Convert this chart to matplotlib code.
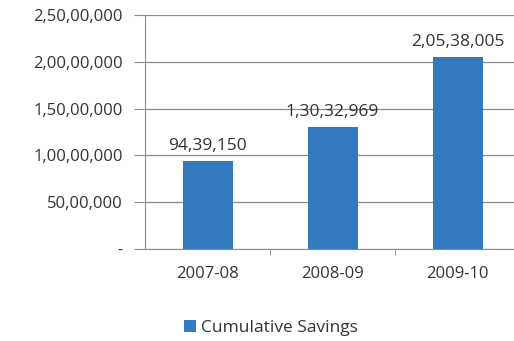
import matplotlib
matplotlib.use("Agg")
import matplotlib.pyplot as plt
from matplotlib.ticker import FuncFormatter, FixedLocator
from matplotlib.patches import Patch

categories = ["2007-08", "2008-09", "2009-10"]
savings = [9439150, 13032969, 20538005]
series_name = "Cumulative Savings"
yticks = [0, 5000000, 10000000, 15000000, 20000000, 25000000]

def indian(v):
    v = int(round(v))
    if v == 0:
        return "-"
    s = str(v)
    last3 = s[-3:]
    rest = s[:-3]
    parts = []
    while len(rest) > 2:
        parts.insert(0, rest[-2:])
        rest = rest[:-2]
    if rest:
        parts.insert(0, rest)
    return ",".join(parts + [last3]) if parts else last3

plt.rcParams['font.family'] = ['Open Sans', 'DejaVu Sans']

W, H = 514, 341
fig = plt.figure(figsize=(W/100, H/100), dpi=100)
ax = fig.add_axes([145/W, (H-249)/H, (514-145)/W, (249-15)/H])

bar_color = "#3279bd"
x = list(range(len(categories)))
bars = ax.bar(x, savings, width=0.4, color=bar_color, zorder=3)
for xi, v in zip(x, savings):
    ax.text(xi, v + 700000, indian(v), ha="center", va="bottom",
            fontsize=12.5, color="#333333")

ax.set_xlim(-0.5, -0.5 + (514-145)/125)
ax.set_ylim(0, 25000000)
ax.yaxis.set_major_locator(FixedLocator(yticks))
ax.yaxis.set_major_formatter(FuncFormatter(lambda v, p: indian(v)))
ax.set_xticks(x)
ax.set_xticklabels(categories)
ax.set_xticks([0.5, 1.5], minor=True)

ax.grid(axis="y", color="#8c8c8c", linewidth=0.9, zorder=0)
for s in ["top", "right"]:
    ax.spines[s].set_visible(False)
ax.spines["left"].set_color("#8c8c8c")
ax.spines["bottom"].set_color("#8c8c8c")
ax.tick_params(axis="y", length=8, color="#8c8c8c", labelsize=12,
               labelcolor="#333333", pad=8)
ax.tick_params(axis="x", which="major", length=0, labelsize=12,
               labelcolor="#333333", pad=12)
ax.tick_params(axis="x", which="minor", length=4, color="#8c8c8c")

handles = [Patch(facecolor=bar_color, label=series_name)]
fig.legend(handles=handles, loc="center", bbox_to_anchor=(271/W, (H-328)/H),
           frameon=False, fontsize=12.5, handlelength=0.7, handleheight=0.7,
           handletextpad=0.3, labelcolor="#333333")

fig.savefig("out.png", dpi=100)
